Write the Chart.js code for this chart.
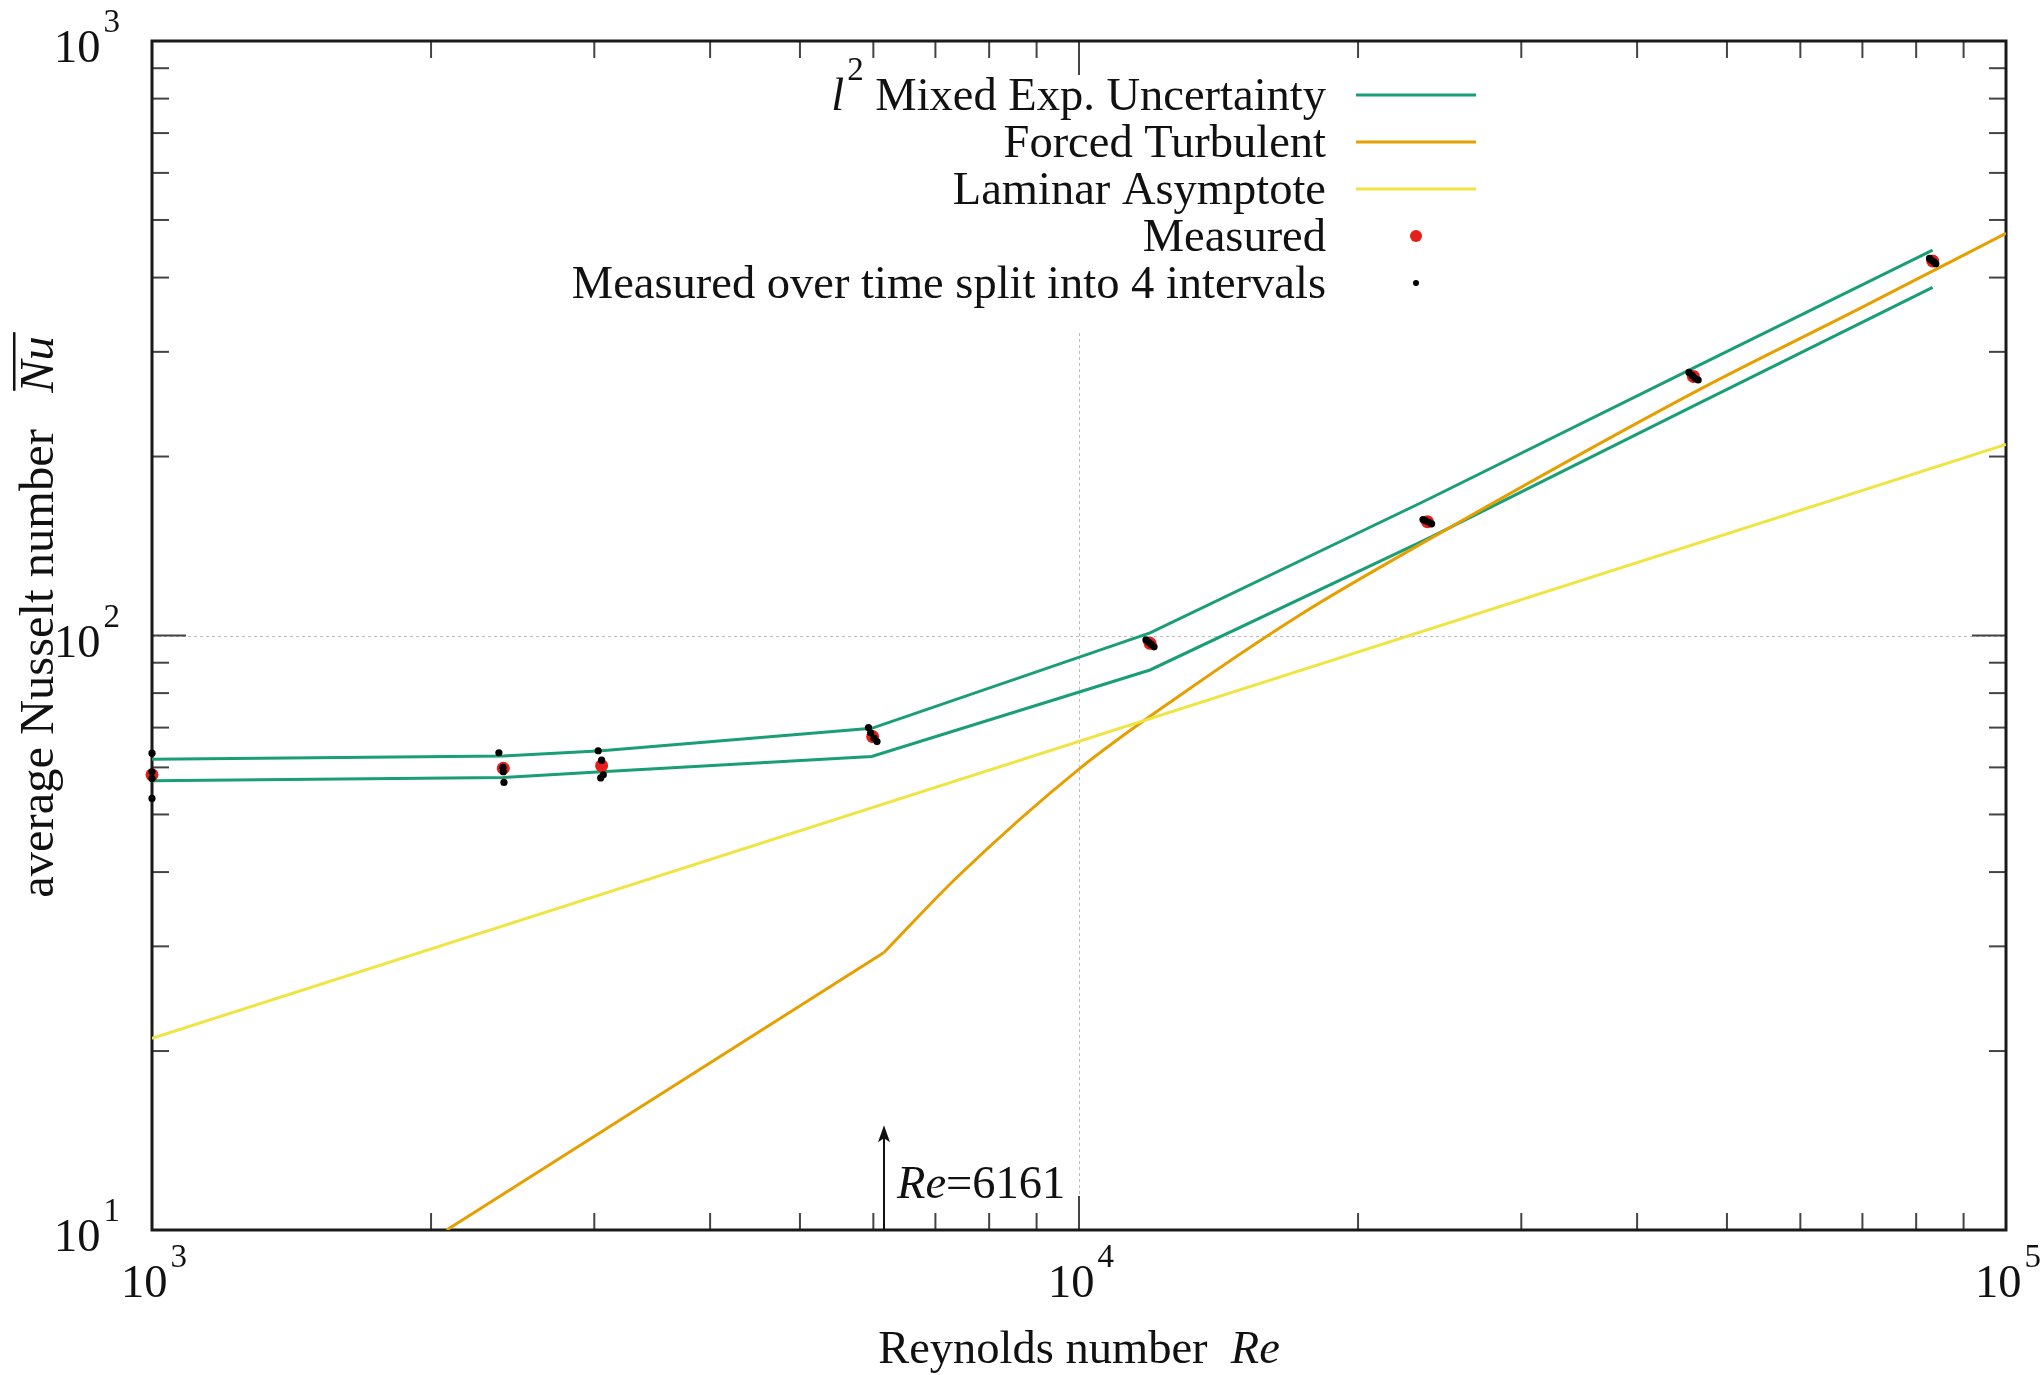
<!DOCTYPE html>
<html><head><meta charset="utf-8">
<script src="https://cdn.jsdelivr.net/npm/chart.js@4.4.0/dist/chart.umd.min.js"></script>
<style>html,body{margin:0;padding:0;background:#fff;overflow:hidden}</style>
</head><body>
<canvas id="c" width="2044" height="1375" style="width:2044px;height:1375px;display:block"></canvas>
<script>
// ---------------- data ----------------
const reMeasured  = [1000, 2393, 3055, 5990, 11930, 23760, 46000, 83350];
const nuMeasured  = [58.3, 59.8, 60.4, 67.6, 97.0, 155.4, 272.8, 426.5];
const nuUpper     = [61.9, 62.7, 64.0, 69.8, 101.0, 169.0, 281.6, 445.0];
const nuLower     = [57.0, 57.7, 59.0, 62.6, 87.5, 145.2, 243.2, 385.0];
const reBounds    = [1000, 2393, 3055, 5975, 11930, 23720, 45980, 83340];
const reIntervals = [1000, 1000, 1000, 1000,
                     2367, 2391, 2393, 2397,
                     3029, 3055, 3068, 3048,
                     5928, 5960, 6010, 6055,
                     11810, 11890, 11970, 12050,
                     23500, 23650, 23850, 24010,
                     45500, 45850, 46150, 46550,
                     82700, 83100, 83600, 84000];
const nuIntervals = [63.4, 59.0, 57.5, 53.2,
                     63.5, 60.0, 59.0, 56.6,
                     64.0, 61.7, 58.3, 57.6,
                     70.0, 68.6, 67.2, 66.3,
                     98.3, 97.4, 96.6, 95.7,
                     156.7, 155.9, 155.0, 154.1,
                     277.0, 274.0, 271.0, 269.0,
                     430.8, 427.8, 425.0, 422.0];
// forced turbulent: straight low-Re branch, then curved branch from the transition
const reTurbLow   = [2079, 6161];
const nuTurbLow   = [10, 29.3];
const reTurbHigh  = [6161, 7410, 10000, 12640, 17310, 23720, 45980, 69570, 100000];
const nuTurbHigh  = [29.3, 39.4, 59.6, 77.9, 108.3, 144.4, 256, 355, 474.8];
const reLaminar   = [1000, 100000];
const nuLaminar   = [21.0, 209.6];
const reTransition = 6161;
const nuArrow = [10, 15];
const transitionLabel = '=6161';

// ticks
const xMajorTicks = [1000, 10000, 100000];
const xMajorExp   = ['3', '4', '5'];
const xMinorTicks = [2000,3000,4000,5000,6000,7000,8000,9000,20000,30000,40000,50000,60000,70000,80000,90000];
const yMajorTicks = [10, 100, 1000];
const yMajorExp   = ['1', '2', '3'];
const yMinorTicks = [20,30,40,50,60,70,80,90,200,300,400,500,600,700,800,900];
const xGridValues = [10000];
const yGridValues = [100];

const xTitle = [{t:'Reynolds number  '}, {t:'Re', it:true}];
const yTitle = [{t:'average Nusselt number   '}, {t:'Nu', it:true, over:true}];

const pts = (xs, ys) => xs.map((x, i) => ({x, y: ys[i]}));

const GREEN = '#1a9e76', ORANGE = '#e69f00', YELLOW = '#f0e442', RED = '#e5201a';
const FONT = '"Liberation Serif", "Times New Roman", serif';
const FS = 46.5;
const FS_YTITLE = 48.5;

const datasets = [
  {label:'Measured over time split into 4 intervals', data: pts(reIntervals, nuIntervals),
   pointRadius:3.6, pointBackgroundColor:'#000', pointBorderWidth:0, showLine:false, order:0, clip:false,
   legendKind:'dot', legendRadius:3},
  {label:'Measured', data: pts(reMeasured, nuMeasured),
   pointRadius:6.5, pointBackgroundColor:RED, pointBorderWidth:0, showLine:false, order:1, clip:false,
   legendKind:'dot', legendRadius:6},
  {label:'Laminar Asymptote', data: pts(reLaminar, nuLaminar), showLine:true, pointRadius:0,
   borderColor:YELLOW, borderWidth:3, order:2, legendKind:'line'},
  {label:'Forced Turbulent', data: pts(reTurbHigh, nuTurbHigh), showLine:true, pointRadius:0,
   cubicInterpolationMode:'monotone',
   borderColor:ORANGE, borderWidth:3, order:3, legendKind:'line'},
  {label:'Forced Turbulent (low Re)', data: pts(reTurbLow, nuTurbLow), showLine:true, pointRadius:0,
   borderColor:ORANGE, borderWidth:3, order:3.5, legendKind:'none'},
  {label:'l² Mixed Exp. Uncertainty', rich:[{t:'l', it:true},{t:'2', sup:true},{t:' Mixed Exp. Uncertainty'}],
   data: pts(reBounds, nuUpper), showLine:true, pointRadius:0,
   borderColor:GREEN, borderWidth:3, order:4, legendKind:'line'},
  {label:'l² Mixed Exp. Uncertainty (lower)', data: pts(reBounds, nuLower), showLine:true, pointRadius:0,
   borderColor:GREEN, borderWidth:3, order:5, legendKind:'none'}
];

// ---------------- rich text helpers ----------------
function fontFor(p, size){
  const s = p.sup ? Math.round(size*0.72) : size;
  return (p.it ? 'italic ' : '') + s + 'px ' + FONT;
}
function richWidth(ctx, parts, size){
  let w = 0;
  for (const p of parts){ ctx.font = fontFor(p, size); w += ctx.measureText(p.t).width + (p.sup ? 3 : 0); }
  return w;
}
function drawRich(ctx, parts, x, y, align, size){
  const w = richWidth(ctx, parts, size);
  let cx = align === 'right' ? x - w : align === 'center' ? x - w/2 : x;
  ctx.textAlign = 'left'; ctx.textBaseline = 'alphabetic';
  for (const p of parts){
    ctx.font = fontFor(p, size);
    if (p.sup) cx += 3;
    const dy = p.sup ? -size*0.64 : 0;
    ctx.fillText(p.t, cx, y + dy);
    const pw = ctx.measureText(p.t).width;
    if (p.over){ ctx.fillRect(cx + 2, y - size*0.66 - 8, pw + 2, 2.5); }
    cx += pw;
  }
}

// ---------------- axes / annotation plugin ----------------
const gnuplotFrame = {
  id:'gnuplotFrame',
  beforeDatasetsDraw(chart){
    const {ctx, chartArea:a, scales:{x, y}} = chart;
    ctx.save();
    ctx.strokeStyle = '#bdbdbd'; ctx.lineWidth = 1; ctx.setLineDash([3,3]);
    for (const v of xGridValues){
      const px = Math.round(x.getPixelForValue(v)) + 0.5;
      ctx.beginPath(); ctx.moveTo(px, a.bottom); ctx.lineTo(px, a.top); ctx.stroke();
    }
    for (const v of yGridValues){
      const py = Math.round(y.getPixelForValue(v)) + 0.5;
      ctx.beginPath(); ctx.moveTo(a.left, py); ctx.lineTo(a.right, py); ctx.stroke();
    }
    ctx.setLineDash([]);
    ctx.fillStyle = '#fff';
    ctx.fillRect(560, 48, 940, 282);
    ctx.strokeStyle = '#444'; ctx.lineWidth = 2;
    const tick = (x1,y1,x2,y2)=>{ctx.beginPath();ctx.moveTo(x1,y1);ctx.lineTo(x2,y2);ctx.stroke();};
    const xt = [...xMinorTicks.map(v=>[v,17]), ...xMajorTicks.map(v=>[v,34])];
    for (const [v,len] of xt){
      const px = x.getPixelForValue(v);
      tick(px, a.bottom, px, a.bottom - len);
      tick(px, a.top, px, a.top + len);
    }
    const yt = [...yMinorTicks.map(v=>[v,17]), ...yMajorTicks.map(v=>[v,34])];
    for (const [v,len] of yt){
      const py = y.getPixelForValue(v);
      tick(a.left, py, a.left + len, py);
      tick(a.right, py, a.right - len, py);
    }
    ctx.strokeStyle = '#1a1a1a'; ctx.lineWidth = 3;
    ctx.strokeRect(a.left, a.top, a.right - a.left, a.bottom - a.top);
    ctx.restore();
  },
  afterDatasetsDraw(chart){
    const {ctx, chartArea:a, scales:{x, y}} = chart;
    ctx.save();
    ctx.fillStyle = '#111';
    xMajorTicks.forEach((v,i)=>{
      drawRich(ctx, [{t:'10'},{t:xMajorExp[i], sup:true}], x.getPixelForValue(v) + 2, a.bottom + 67, 'center', FS);
    });
    yMajorTicks.forEach((v,i)=>{
      drawRich(ctx, [{t:'10'},{t:yMajorExp[i], sup:true}], a.left - 32, y.getPixelForValue(v) + 21, 'right', FS);
    });
    drawRich(ctx, xTitle, (a.left + a.right)/2, 1363, 'center', FS);
    ctx.save();
    ctx.translate(53, 617); ctx.rotate(-Math.PI/2);
    drawRich(ctx, yTitle, 0, 0, 'center', FS_YTITLE);
    ctx.restore();
    const ax = x.getPixelForValue(reTransition);
    const y0 = y.getPixelForValue(nuArrow[0]), y1 = y.getPixelForValue(nuArrow[1]);
    ctx.strokeStyle = '#111'; ctx.lineWidth = 2;
    ctx.beginPath(); ctx.moveTo(ax, y0); ctx.lineTo(ax, y1 + 10); ctx.stroke();
    ctx.beginPath(); ctx.moveTo(ax, y1); ctx.lineTo(ax - 6, y1 + 17); ctx.lineTo(ax, y1 + 13); ctx.lineTo(ax + 6, y1 + 17); ctx.closePath(); ctx.fill();
    drawRich(ctx, [{t:'Re', it:true},{t:transitionLabel}], ax + 13, y0 - 32, 'left', FS);
    const rowY0 = 95, rowDy = 47, textRight = 1326, sampleL = 1356, sampleR = 1476;
    let row = 0;
    const items = chart.data.datasets.filter(d => d.legendKind !== 'none').sort((p,q)=>q.order - p.order);
    for (const d of items){
      const sy = rowY0 + row*rowDy;
      ctx.fillStyle = '#111';
      drawRich(ctx, d.rich || [{t:d.label}], textRight, sy + 15, 'right', FS);
      if (d.legendKind === 'line'){
        ctx.strokeStyle = d.borderColor; ctx.lineWidth = d.borderWidth;
        ctx.beginPath(); ctx.moveTo(sampleL, sy); ctx.lineTo(sampleR, sy); ctx.stroke();
      } else {
        ctx.fillStyle = d.pointBackgroundColor;
        ctx.beginPath(); ctx.arc((sampleL+sampleR)/2, sy, d.legendRadius, 0, Math.PI*2); ctx.fill();
      }
      row++;
    }
    ctx.restore();
  }
};

new Chart(document.getElementById('c').getContext('2d'), {
  type:'scatter',
  data:{datasets},
  options:{
    responsive:false, animation:false, devicePixelRatio:1,
    layout:{padding:{left:152, top:41, right:38, bottom:145}},
    scales:{
      x:{type:'logarithmic', min:1000, max:100000, display:false},
      y:{type:'logarithmic', min:10, max:1000, display:false}
    },
    plugins:{legend:{display:false}, tooltip:{enabled:false}},
    elements:{line:{tension:0}}
  },
  plugins:[gnuplotFrame]
});
</script>
</body></html>
